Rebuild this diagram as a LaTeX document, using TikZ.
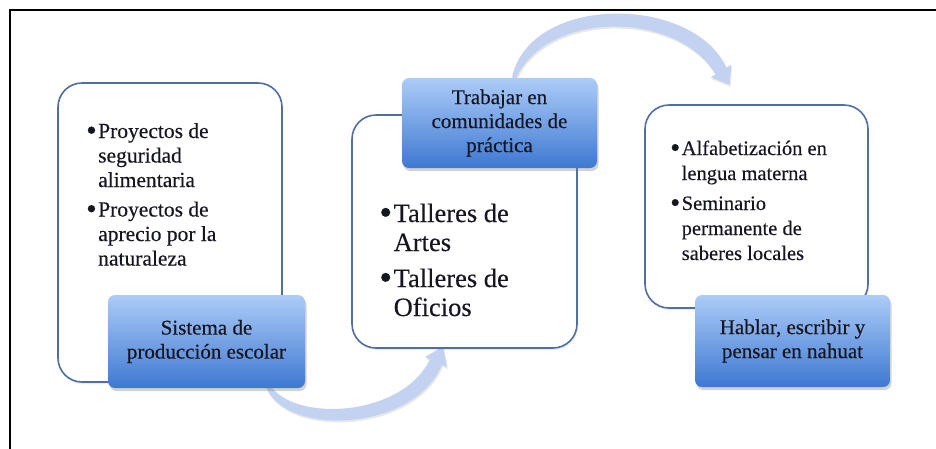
\documentclass[tikz,border=0pt]{standalone}
\usepackage{fontspec}
\setmainfont{Liberation Serif}[FakeBold=0.3]
\usetikzlibrary{shadows}
\definecolor{boxline}{RGB}{80,110,160}
\definecolor{bluetop}{RGB}{172,204,248}
\definecolor{bluebot}{RGB}{62,120,210}
\definecolor{arrowfill}{RGB}{194,210,240}
\definecolor{txt}{RGB}{22,22,32}
\newcommand{\bul}{\raisebox{-0.1em}{\scalebox{1.4}{•}}}
\begin{document}
\begin{tikzpicture}[x=1pt,y=-1pt,
  whitebox/.style={draw=boxline, line width=1.6pt, fill=white, rounded corners=24pt, inner sep=0pt,
    drop shadow={shadow xshift=1pt,shadow yshift=-2pt,opacity=0.15}},
  bluebox/.style={rounded corners=7pt, top color=bluetop, bottom color=bluebot, inner sep=0pt,
    align=center, text=txt, font=\fontsize{21}{24}\selectfont,
    drop shadow={shadow xshift=1.5pt,shadow yshift=-3pt,opacity=0.35}},
  listtext/.style={text=txt, inner sep=0pt, anchor=base west},
  arrowshape/.style={fill=arrowfill, draw=none,
    drop shadow={shadow xshift=1pt,shadow yshift=-2pt,opacity=0.18}}]
\useasboundingbox (0,0) rectangle (936,448);
\fill[white] (0,0) rectangle (936,448);
% frame (cropped)
\draw[line width=2.5pt] (940,10) -- (10,10) -- (10,452);

% bottom arrow: from box b1 to box w2
\coordinate (a1so) at (266,387);
\coordinate (a1si) at (270,385);
\coordinate (a1eo) at (442,364.7);
\coordinate (a1ho) at (446.9,366.9);
\coordinate (a1tip) at (443,346.5);
\coordinate (a1hi) at (425.1,357.1);
\coordinate (a1ei) at (430,359.3);
\path[arrowshape] (a1so) .. controls (286,437) and (414,432) .. (a1eo) -- (a1ho) -- (a1tip)
  -- (a1hi) -- (a1ei) .. controls (402,417.5) and (294,422.5) .. (a1si) -- cycle;

% top arrow: from box b2 to box w3
\coordinate (a2so) at (512,77.4);
\coordinate (a2si) at (516,78.6);
\coordinate (a2eo) at (726.5,67.6);
\coordinate (a2ho) at (731.2,64.6);
\coordinate (a2tip) at (729.5,84.6);
\coordinate (a2hi) at (710.8,77.4);
\coordinate (a2ei) at (715.5,74.4);
\path[arrowshape] (a2so) .. controls (530,-6) and (692,-6) .. (a2eo) -- (a2ho) -- (a2tip)
  -- (a2hi) -- (a2ei) .. controls (678,10) and (546,10) .. (a2si) -- cycle;

% white boxes
\node[whitebox, minimum width=224pt, minimum height=299pt] (w1) at (170,232.5) {};
\node[whitebox, minimum width=225pt, minimum height=233pt] (w2) at (464.5,231.5) {};
\node[whitebox, minimum width=223pt, minimum height=203pt] (w3) at (756.5,206.5) {};

% blue boxes
\node[bluebox, minimum width=197pt, minimum height=93pt] (b1) at (206.5,341.5) {Sistema de\\producción escolar};
\node[bluebox, minimum width=195pt, minimum height=90pt] (b2) at (499.5,123) {Trabajar en\\comunidades de\\práctica};
\node[bluebox, minimum width=195pt, minimum height=92pt] (b3) at (792.5,341) {Hablar, escribir y\\pensar en nahuat};

% lists
\node[listtext] (l1) at (86,138) {\fontsize{21.5}{24.5}\selectfont
  \begin{tabular}[t]{@{}l@{\hspace{1.5pt}}l@{}}
  \bul&Proyectos de\\ &seguridad\\ &alimentaria\\[5pt]
  \bul&Proyectos de\\ &aprecio por la\\ &naturaleza
  \end{tabular}};
\node[listtext] (l2) at (379,222) {\fontsize{26.5}{29}\selectfont
  \begin{tabular}[t]{@{}l@{\hspace{1.5pt}}l@{}}
  \bul&Talleres de\\ &Artes\\[7pt]
  \bul&Talleres de\\ &Oficios
  \end{tabular}};
\node[listtext] (l3) at (670,155) {\fontsize{20.5}{25}\selectfont
  \begin{tabular}[t]{@{}l@{\hspace{1.5pt}}l@{}}
  \bul&Alfabetización en\\ &lengua materna\\[5pt]
  \bul&Seminario\\ &permanente de\\ &saberes locales
  \end{tabular}};
\end{tikzpicture}
\end{document}
